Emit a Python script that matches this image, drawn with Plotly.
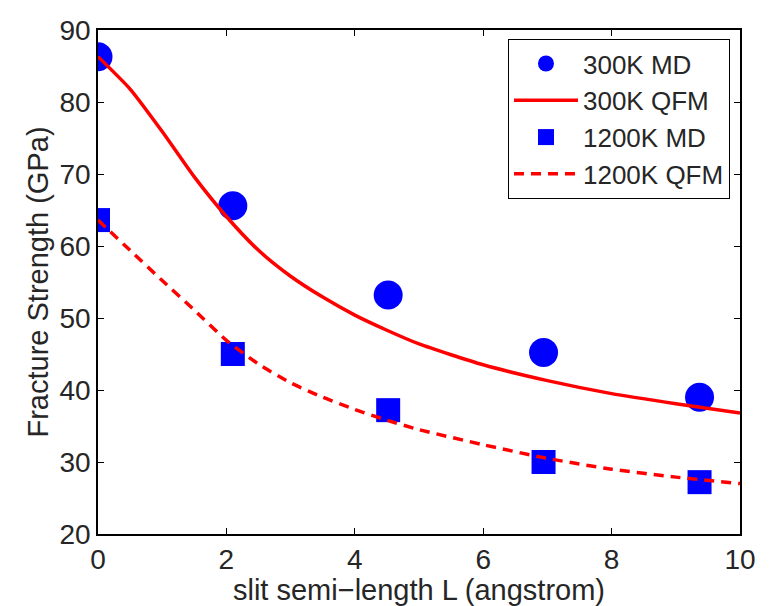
import plotly.graph_objects as go

# MD data points
md_x_300 = [0.0, 2.1, 4.52, 6.94, 9.37]
md_y_300 = [86.3, 65.6, 53.2, 45.2, 39.0]
md_x_1200 = [0.0, 2.1, 4.52, 6.94, 9.37]
md_y_1200 = [63.6, 45.0, 37.2, 30.0, 27.2]

# QFM curves
qfm_x = [0, 0.5, 1.0, 1.5, 2.0, 2.5, 3.0, 3.5, 4.0, 4.5, 5.0, 6.0, 7.0, 8.0, 9.0, 10.0]
qfm_y_300 = [86.3, 81.8, 75.9, 69.6, 64.1, 59.4, 55.8, 52.9, 50.4, 48.3, 46.4, 43.5, 41.3, 39.5, 38.1, 36.8]
qfm_y_1200 = [63.6, 59.4, 55.2, 51.1, 46.9, 43.6, 41.0, 39.0, 37.3, 35.8, 34.5, 32.4, 30.5, 29.0, 27.9, 27.0]

x_ticks = [0, 2, 4, 6, 8, 10]
y_ticks = [20, 30, 40, 50, 60, 70, 80, 90]

FONT = "Liberation Sans, Arial, Helvetica, sans-serif"
TXT = "#262626"

fig = go.Figure()
fig.add_trace(go.Scatter(x=md_x_300, y=md_y_300, mode="markers", name="300K MD",
                         marker=dict(symbol="circle", size=29, color="#0000FF"),
                         legendrank=1))
fig.add_trace(go.Scatter(x=md_x_1200, y=md_y_1200, mode="markers", name="1200K MD",
                         marker=dict(symbol="square", size=24, color="#0000FF"),
                         legendrank=3))
fig.add_trace(go.Scatter(x=qfm_x, y=qfm_y_300, mode="lines", name="300K QFM",
                         line=dict(color="#FF0000", width=3.5, shape="spline", smoothing=0.6),
                         legendrank=2))
fig.add_trace(go.Scatter(x=qfm_x, y=qfm_y_1200, mode="lines", name="1200K QFM",
                         line=dict(color="#FF0000", width=3.5, dash="10px,7px", shape="spline", smoothing=0.6),
                         legendrank=4))

axis_common = dict(showgrid=False, zeroline=False, showline=True, linecolor="black",
                   linewidth=1.5, mirror="ticks", ticks="inside", ticklen=6,
                   tickcolor="black", tickwidth=1, automargin=False,
                   tickfont=dict(family=FONT, size=28, color=TXT))

# page body has an 8px default margin, so the figure is sized 762x598
fig.update_layout(
    width=762, height=598,
    margin=dict(l=90, r=30, t=22, b=72, autoexpand=False),
    paper_bgcolor="white", plot_bgcolor="white",
    font=dict(family=FONT, size=28, color=TXT),
    xaxis=dict(range=[0, 10], tickvals=x_ticks,
               title=dict(text="slit semi\u2212length L (angstrom)", font=dict(size=29, color=TXT), standoff=0),
               **axis_common),
    yaxis=dict(range=[20, 90], tickvals=y_ticks,
               title=dict(text="Fracture Strength (GPa)", font=dict(size=29, color=TXT), standoff=2),
               **axis_common),
    legend=dict(x=0.9844, y=0.982, xanchor="right", yanchor="top",
                bordercolor="black", borderwidth=1, bgcolor="white",
                font=dict(family=FONT, size=26, color=TXT),
                itemwidth=64),
)

fig.write_html("out.html")
